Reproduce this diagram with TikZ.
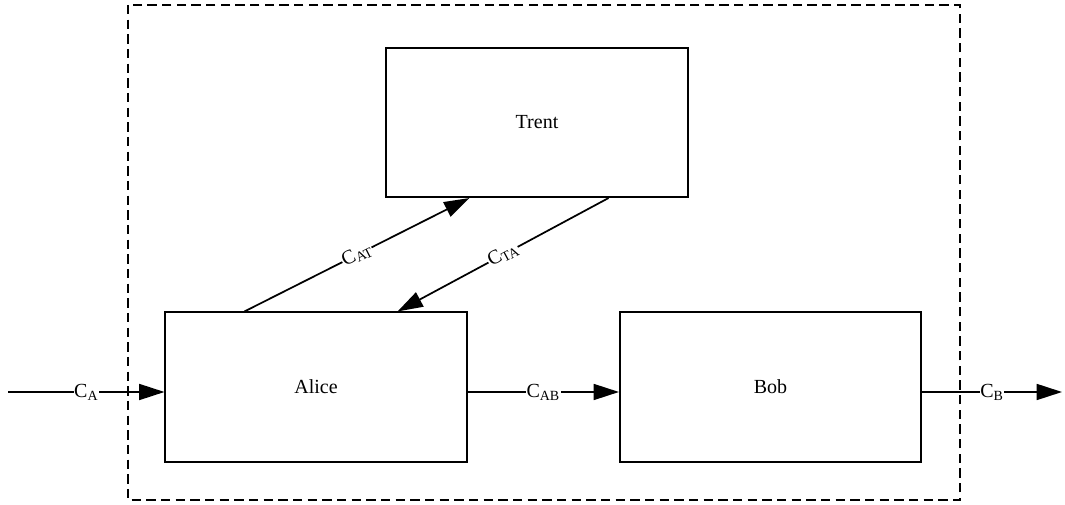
\documentclass[tikz,border=0pt]{standalone}
\usepackage{fontspec}
\setmainfont{Liberation Serif}
\usetikzlibrary{arrows.meta}
\tikzstyle{party}=[draw,rectangle,line width=1.3pt,minimum width=226pt,minimum height=112pt,inner sep=0pt]
\tikzstyle{chan}=[line width=1.3pt,-{Triangle[length=19pt,width=12pt]}]
\tikzstyle{lbl}=[fill=white,inner sep=0.5pt,font=\fontsize{15}{17}\selectfont]

\begin{document}
\begin{tikzpicture}[x=0.75pt,y=-0.75pt,font=\fontsize{15}{17}\selectfont]
    \useasboundingbox (0,0) rectangle (1065,505);
    \draw [line width=1.3pt,dash pattern=on 7pt off 4pt] (128,5) rectangle (960,500);
    \node [party] (trent) at (537,122.5) {Trent};
    \node [party] (alice) at (316,387) {Alice};
    \node [party] (bob) at (770.5,387) {Bob};
    \coordinate (in) at (8,392);
    \coordinate (out) at (1062,392);
    \draw [chan] (in) -- node [lbl] {C\textsubscript{A}} (alice.west |- in);
    \draw [chan] (alice.east |- in) -- node [lbl] {C\textsubscript{AB}} (bob.west |- in);
    \draw [chan] (bob.east |- out) -- node [lbl] {C\textsubscript{B}} (out);
    \draw [chan] ([xshift=60pt]alice.north west) -- node [lbl,sloped] {C\textsubscript{AT}} ([xshift=63pt]trent.south west);
    \draw [chan] ([xshift=-60pt]trent.south east) -- node [lbl,sloped] {C\textsubscript{TA}} ([xshift=-52.5pt]alice.north east);
\end{tikzpicture}
\end{document}
